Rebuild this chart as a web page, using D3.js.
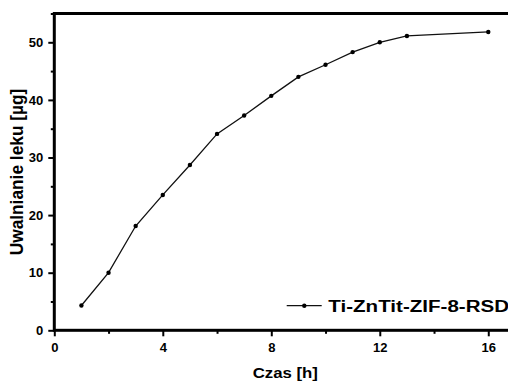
<!DOCTYPE html>
<html>
<head>
<meta charset="utf-8">
<script src="https://cdn.jsdelivr.net/npm/d3@7"></script>
<style>
  html, body { margin: 0; padding: 0; background: #fff; overflow: hidden; }
  svg { display: block; font-family: "Liberation Sans", Arial, sans-serif; font-weight: bold; }
</style>
</head>
<body>
<svg id="chart" width="508" height="381"></svg>
<script>
// Drug release over time
const hours   = [1, 2, 3, 4, 5, 6, 7, 8, 9, 10, 11, 12, 13, 16];
const release = [4.3, 10.0, 18.1, 23.5, 28.7, 34.1, 37.3, 40.7, 44.0, 46.1, 48.3, 50.0, 51.1, 51.8];
const seriesName = "Ti-ZnTit-ZIF-8-RSD";

const xMajorTicks = [0, 4, 8, 12, 16];
const xMinorTicks = [2, 6, 10, 14];
const yMajorTicks = [0, 10, 20, 30, 40, 50];
const yMinorTicks = [5, 15, 25, 35, 45, 55];

const xTitle = "Czas [h]";
const yTitle = "Uwalnianie leku [\u00b5g]";

const svg = d3.select("#chart");
const plotLeft = 54.3, plotRight = 515.4, plotTop = 13.5, plotBottom = 330.3;

const x = d3.scaleLinear().domain([0, 17]).range([plotLeft, plotRight]);
const y = d3.scaleLinear().domain([0, 55]).range([plotBottom, plotTop]);

// minor ticks (no labels)
svg.append("g")
  .attr("transform", `translate(0,${plotBottom})`)
  .call(d3.axisBottom(x).tickValues(xMinorTicks).tickSize(3.5).tickFormat(""))
  .call(g => g.select(".domain").remove())
  .call(g => g.selectAll("line").attr("stroke-width", 2));
svg.append("g")
  .attr("transform", `translate(${plotLeft},0)`)
  .call(d3.axisLeft(y).tickValues(yMinorTicks).tickSize(3.5).tickFormat(""))
  .call(g => g.select(".domain").remove())
  .call(g => g.selectAll("line").attr("stroke-width", 2));

// major ticks with labels
svg.append("g")
  .attr("transform", `translate(0,${plotBottom})`)
  .call(d3.axisBottom(x).tickValues(xMajorTicks).tickSize(6).tickPadding(6).tickFormat(d3.format("d")))
  .call(g => g.select(".domain").remove())
  .call(g => g.selectAll("line").attr("stroke-width", 2))
  .call(g => g.selectAll("text").attr("font-size", 13).attr("font-family", null).attr("fill", "#000"));
svg.append("g")
  .attr("transform", `translate(${plotLeft},0)`)
  .call(d3.axisLeft(y).tickValues(yMajorTicks).tickSize(6).tickPadding(5).tickFormat(d3.format("d")))
  .call(g => g.select(".domain").remove())
  .call(g => g.selectAll("line").attr("stroke-width", 2))
  .call(g => g.selectAll("text").attr("font-size", 13).attr("font-family", null).attr("fill", "#000"));

// plot frame
svg.append("rect")
  .attr("x", plotLeft).attr("y", plotTop)
  .attr("width", plotRight - plotLeft).attr("height", plotBottom - plotTop)
  .attr("fill", "none").attr("stroke", "#000").attr("stroke-width", 3);

// series line and markers
const line = d3.line().x((d, i) => x(hours[i])).y(d => y(d));
svg.append("path")
  .datum(release)
  .attr("d", line)
  .attr("fill", "none")
  .attr("stroke", "#111")
  .attr("stroke-width", 1.3);
svg.append("g").selectAll("circle")
  .data(release)
  .join("circle")
  .attr("cx", (d, i) => x(hours[i]))
  .attr("cy", d => y(d))
  .attr("r", 2.2)
  .attr("fill", "#000");

// legend
const lg = svg.append("g").attr("transform", "translate(286.7,305.7)");
lg.append("line").attr("x1", 0).attr("x2", 35).attr("y1", 0).attr("y2", 0)
  .attr("stroke", "#111").attr("stroke-width", 1.3);
lg.append("circle").attr("cx", 17.6).attr("cy", 0).attr("r", 2.2).attr("fill", "#000");
svg.append("g").attr("transform", "translate(328.3,312) scale(1.21,1)")
  .append("text").attr("font-size", 17).attr("text-anchor", "start").text(seriesName);

// axis titles
svg.append("g").attr("transform", "translate(285.3,377.7) scale(1.2,1)")
  .append("text").attr("font-size", 14).attr("text-anchor", "middle").text(xTitle);
svg.append("g").attr("transform", "translate(22.7,172) rotate(-90) scale(1,1.08)")
  .append("text").attr("font-size", 17.3).attr("text-anchor", "middle").text(yTitle);
</script>
</body>
</html>
